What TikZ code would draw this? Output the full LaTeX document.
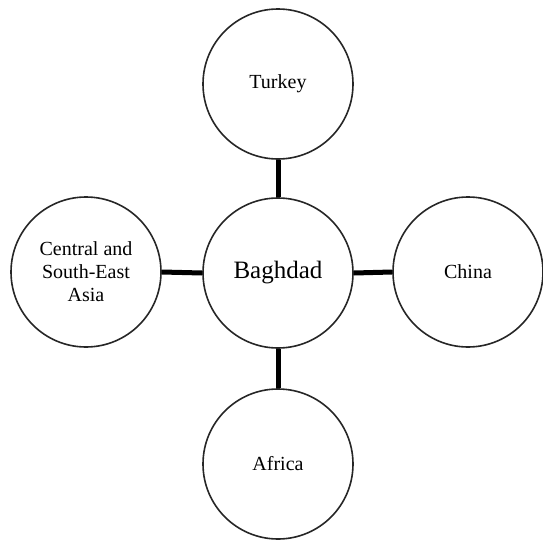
\documentclass[tikz,border=0pt]{standalone}
\usepackage{fontspec}
\setmainfont{Liberation Serif}
\begin{document}
\begin{tikzpicture}[x=1pt,y=1pt,
  place/.style={circle,draw=black!85,line width=1.6pt,minimum size=150pt,inner sep=0pt,fill=white,align=center,font=\fontsize{20}{23}\selectfont},
  hub/.style={place,font=\fontsize{25}{28}\selectfont},
  link/.style={line width=5pt,black}]
\useasboundingbox (0,0) rectangle (543,-544);
\node[hub] (bag) at (278,-273) {Baghdad};
\node[place] (tur) at (278,-84) {Turkey};
\node[place] (afr) at (278,-464) {Africa};
\node[place] (cas) at (86,-272) {Central and\\South-East\\Asia};
\node[place] (chi) at (468,-272) {China};
\begin{scope}[on background layer/.try]
\end{scope}
\draw[link] (bag.north) -- (tur.south);
\draw[link] (bag.south) -- (afr.north);
\draw[link] (bag.west) -- (cas.east);
\draw[link] (bag.east) -- (chi.west);
\end{tikzpicture}
\end{document}
